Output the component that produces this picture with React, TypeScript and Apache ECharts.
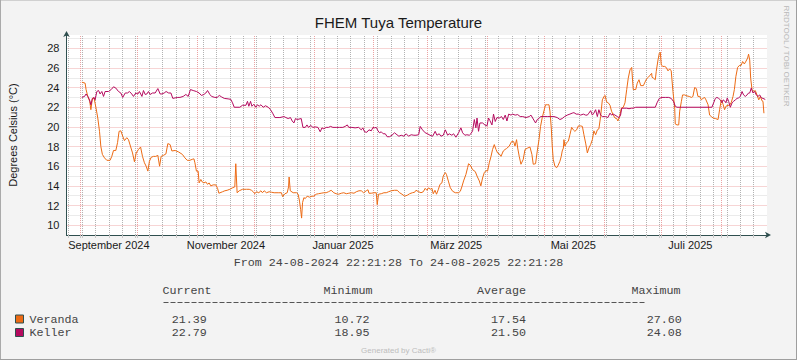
import React, { useEffect, useRef } from 'react';
import * as echarts from 'echarts';

// ---- time frame ----
const START = Date.UTC(2024, 7, 24, 22, 21, 28);
const END = Date.UTC(2025, 7, 24, 22, 21, 28);
const DAY = 86400000;

// ---- series: [days since START, °C] ----
const veranda: [number, number][] = [
  [8.0, 24.55], [9.7, 24.45], [10.2, 23.8], [11.1, 23.1], [12.1, 22.6], [12.7, 21.75], [13.5, 22.9], [14.4, 22.9], [15.4, 21.9], [16.3, 20.9],
  [17.2, 19.55], [17.9, 18.0], [18.7, 17.2], [19.8, 16.85], [21.0, 16.6], [22.7, 16.6], [23.6, 17.0], [24.5, 17.6], [25.7, 17.6], [26.6, 18.4],
  [27.4, 19.55], [28.3, 19.6], [29.3, 19.05], [30.2, 18.6], [31.4, 18.9], [32.3, 18.7], [33.3, 18.05], [34.4, 17.35], [35.4, 16.45], [36.3, 17.35],
  [37.5, 17.7], [38.6, 17.95], [39.6, 17.0], [40.6, 16.35], [41.5, 16.0], [42.4, 15.5], [43.2, 16.5], [44.1, 16.9], [45.3, 17.0], [46.5, 17.0],
  [47.6, 17.1], [48.5, 16.0], [49.3, 17.0], [50.5, 17.1], [51.8, 17.25], [52.8, 18.3], [54.0, 18.2], [54.9, 17.55], [56.6, 17.6], [58.4, 17.45],
  [60.4, 17.2], [61.7, 16.85], [62.9, 16.6], [64.3, 16.6], [65.5, 16.7], [66.4, 16.75], [66.9, 16.35], [67.7, 15.5], [68.6, 15.5], [69.1, 14.3],
  [70.0, 14.65], [70.7, 14.4], [71.6, 14.3], [72.6, 14.4], [73.5, 14.15], [74.3, 14.3], [75.2, 14.0], [76.4, 14.1], [77.8, 14.1], [78.7, 13.75],
  [79.4, 13.25], [81.3, 13.4], [82.5, 13.5], [83.7, 13.55], [85.1, 13.65], [86.5, 13.8], [87.7, 13.9], [88.2, 16.25], [88.9, 13.3], [90.0, 13.5],
  [91.7, 13.65], [93.8, 13.65], [95.2, 13.65], [96.4, 13.55], [97.3, 13.4], [98.1, 13.2], [99.0, 13.4], [100.2, 13.3], [101.3, 13.5], [102.1, 13.3],
  [103.0, 13.5], [104.2, 13.3], [105.6, 13.4], [106.8, 13.35], [108.2, 13.3], [110.3, 13.3], [112.0, 13.3], [112.6, 12.9], [113.8, 13.2], [115.0, 13.3],
  [115.7, 13.9], [116.0, 14.9], [116.6, 13.5], [118.1, 13.3], [119.9, 13.3], [120.7, 13.15],
  [121.4, 12.45], [122.0, 11.6], [122.5, 10.72], [123.0, 12.3], [123.7, 12.8], [124.4, 12.7], [125.4, 12.95], [126.6, 12.85], [127.9, 12.95], [128.9, 12.95],
  [130.1, 13.15], [131.3, 13.2], [132.7, 13.25], [134.1, 13.3], [135.3, 13.3], [136.5, 13.4], [137.9, 13.55], [139.3, 13.3], [140.5, 13.2], [141.8, 13.15],
  [143.2, 13.25], [144.5, 13.3], [145.8, 13.2], [147.1, 13.25], [148.4, 13.3], [149.8, 13.25], [151.0, 13.4], [152.4, 13.5], [153.6, 13.5], [154.8, 13.3],
  [156.2, 13.5], [157.1, 13.6], [157.6, 13.25], [158.8, 13.25], [160.2, 13.3], [161.4, 13.3], [161.9, 12.1], [162.6, 13.15], [164.0, 13.2], [165.4, 13.3],
  [166.6, 13.3], [167.8, 13.4], [169.2, 13.5], [170.9, 13.55], [172.3, 13.55], [173.6, 13.3], [174.8, 13.15], [176.2, 12.95], [177.6, 13.05], [178.8, 13.2],
  [180.2, 13.3], [181.4, 13.35],
  [182.1, 13.55], [183.5, 13.4], [184.7, 13.3], [185.9, 13.4], [186.9, 13.75], [187.8, 13.55], [188.7, 13.8], [189.5, 13.65], [190.4, 13.75], [191.1, 13.2],
  [192.0, 13.55], [192.8, 13.15], [193.7, 13.6], [194.6, 14.15], [195.6, 14.3], [196.3, 15.0], [197.4, 15.35], [198.0, 15.15], [199.1, 14.4], [200.0, 13.8],
  [201.2, 13.45], [202.6, 13.3], [204.3, 13.3], [205.2, 13.45], [206.0, 13.9], [206.9, 14.5], [208.1, 15.15], [209.0, 15.85], [209.5, 16.25], [210.4, 16.1],
  [211.6, 15.65], [213.0, 15.45], [213.9, 15.0], [215.1, 14.5], [215.9, 14.0], [216.8, 14.8], [217.7, 15.35], [218.6, 15.55], [219.4, 15.5], [220.3, 16.35],
  [221.2, 17.0], [222.0, 17.7], [222.9, 18.2], [223.8, 17.7], [224.6, 17.35], [225.5, 17.25], [226.4, 17.0], [227.6, 17.55], [228.5, 17.7], [229.3, 17.8],
  [230.7, 18.05], [231.9, 18.5], [233.0, 18.5], [233.7, 18.05], [234.5, 18.7], [235.1, 17.85], [235.9, 17.0], [236.8, 16.2], [238.0, 16.7], [238.9, 17.7],
  [240.3, 17.85], [241.5, 17.95], [242.5, 17.2], [243.2, 16.2],
  [244.4, 16.25], [245.3, 17.55], [246.2, 18.7], [247.0, 20.05], [247.9, 20.95], [248.8, 21.65], [249.6, 22.25], [250.5, 22.25], [251.4, 22.25], [251.9, 21.6],
  [252.6, 19.9], [253.1, 18.05], [253.6, 16.7], [254.5, 16.0], [255.4, 15.85], [256.2, 16.1], [257.1, 16.5], [257.8, 17.0], [258.3, 17.55], [258.9, 17.85],
  [259.2, 18.7], [259.7, 18.05], [260.6, 18.4], [261.5, 18.55], [262.3, 19.2], [263.2, 19.95], [264.1, 19.7], [264.9, 19.55], [265.8, 19.7], [266.7, 20.1],
  [267.9, 20.1], [268.8, 20.05], [269.6, 19.2], [270.5, 18.35], [271.4, 17.35], [272.2, 17.85], [273.1, 18.2], [274.0, 18.7], [274.8, 19.6], [275.7, 19.2],
  [276.6, 19.7], [277.4, 19.8], [278.3, 21.05], [279.2, 22.75], [280.1, 23.1], [280.6, 23.2], [281.4, 22.55], [282.3, 22.45], [283.2, 22.2], [284.0, 21.6],
  [284.9, 21.2], [285.8, 20.9], [286.7, 20.85], [287.3, 20.6], [288.2, 21.05], [289.1, 21.9], [290.1, 22.0], [291.0, 22.45], [291.9, 23.8], [292.7, 24.95],
  [293.6, 25.8], [294.5, 26.05], [295.3, 23.8], [296.6, 23.8], [297.4, 24.45], [298.3, 24.8], [299.2, 24.2], [300.6, 24.2], [301.4, 24.55], [302.3, 24.9],
  [303.2, 25.05], [304.0, 25.25], [304.9, 25.45],
  [305.1, 25.05], [305.9, 24.95], [306.8, 24.8], [307.3, 25.65], [308.2, 26.8], [308.9, 27.5], [309.4, 27.6], [309.9, 26.3], [310.8, 26.15], [311.7, 26.15],
  [312.5, 26.05], [313.4, 25.7], [314.3, 25.9], [315.1, 25.7], [316.0, 23.6], [316.9, 21.9], [317.2, 20.3], [318.1, 20.2], [319.0, 20.2], [319.5, 21.6],
  [320.4, 22.6], [321.0, 23.25], [322.1, 23.25], [323.3, 23.15], [324.5, 23.1], [325.6, 23.0], [326.4, 23.1], [327.3, 24.0], [328.2, 23.9], [329.0, 23.1],
  [329.9, 23.1], [330.8, 22.75], [331.6, 22.9], [332.5, 23.0], [333.2, 22.75], [334.3, 22.25], [335.1, 21.2], [336.0, 21.05], [336.9, 20.9], [338.1, 20.85],
  [339.5, 20.75], [340.3, 21.75], [341.2, 22.75], [342.1, 22.3], [342.9, 21.75], [343.6, 22.1], [344.7, 22.2], [345.5, 22.2], [346.4, 22.5], [347.3, 23.1],
  [348.0, 23.8], [348.8, 25.15], [349.7, 26.05], [350.6, 26.25], [351.5, 26.25], [352.3, 26.65], [353.2, 26.4], [354.1, 26.7], [354.9, 27.0], [355.4, 27.4],
  [356.0, 26.8], [356.5, 24.95], [357.2, 23.8], [358.1, 23.6], [358.9, 23.7], [359.8, 23.25], [360.7, 22.75], [361.5, 23.1], [362.4, 22.65], [362.9, 22.6],
  [363.4, 21.39],
];

const keller: [number, number][] = [
  [8.0, 23.0], [9.4, 23.1], [10.2, 23.35], [11.1, 23.1], [12.0, 22.75], [12.7, 22.25], [13.5, 22.9], [14.4, 23.0], [14.9, 22.75], [15.8, 23.6],
  [16.7, 23.7], [17.5, 23.35], [18.4, 23.6], [19.3, 23.1], [20.1, 23.6], [21.9, 23.6], [23.3, 23.8], [24.5, 24.08], [25.7, 23.95], [27.1, 23.6],
  [28.3, 23.45], [29.3, 23.0], [30.6, 23.45], [31.8, 23.45], [32.8, 23.6], [34.0, 23.35], [34.9, 23.1], [36.1, 23.45], [37.2, 23.35], [38.0, 23.6],
  [39.3, 23.1], [40.1, 23.7], [41.0, 23.3], [41.9, 23.35], [42.7, 23.6], [43.6, 23.3], [44.8, 23.45], [46.2, 23.45], [47.6, 23.9], [48.8, 23.35],
  [49.7, 23.35], [50.9, 23.45], [51.9, 23.6], [53.2, 23.45], [54.4, 23.45], [55.4, 22.9], [56.6, 22.95], [58.0, 23.0],
  [59.1, 23.0], [60.8, 23.1], [62.2, 23.3], [63.4, 23.1], [64.6, 23.8], [66.0, 23.7], [67.7, 23.6], [69.1, 23.45], [70.3, 23.2], [71.6, 23.3],
  [72.6, 23.45], [73.5, 23.7], [74.7, 23.3], [75.6, 23.1], [77.3, 23.0], [78.5, 23.0], [79.6, 23.2], [80.8, 23.05], [82.2, 22.9], [84.2, 22.85],
  [85.6, 22.8], [86.5, 22.45], [87.4, 22.0], [90.3, 22.0], [91.7, 22.2], [93.5, 22.2], [94.3, 22.6], [95.0, 22.1], [95.9, 22.6], [96.6, 22.1],
  [97.6, 22.3], [98.7, 22.0], [99.5, 22.25], [100.4, 22.1], [101.3, 22.25], [102.5, 22.0], [103.7, 22.15], [105.1, 22.0], [106.3, 21.75], [107.4, 21.4],
  [108.6, 20.95], [111.2, 20.95], [113.3, 21.05], [114.3, 20.95], [115.5, 20.85], [116.7, 20.95], [117.6, 20.6], [118.5, 20.4], [119.3, 20.85], [120.2, 20.75],
  [122.3, 20.85], [123.2, 19.95], [124.4, 19.95], [125.3, 20.2], [126.1, 19.95], [127.2, 20.15], [128.4, 19.95], [129.6, 20.0], [131.0, 19.95], [132.2, 19.5],
  [133.1, 19.9], [134.1, 19.8], [135.3, 19.95], [136.5, 19.95], [137.6, 20.05], [138.8, 19.95], [140.5, 19.95], [142.3, 19.95], [144.0, 19.95], [145.2, 20.05],
  [146.3, 20.2], [147.1, 19.95], [148.7, 19.95], [150.4, 19.9], [152.2, 19.95], [153.6, 19.7], [154.4, 19.9], [155.3, 19.5], [156.5, 19.45], [157.6, 19.7],
  [158.8, 19.6], [159.7, 19.95], [160.5, 19.9], [161.4, 19.95], [162.3, 19.6], [163.1, 19.4], [164.0, 19.5], [165.0, 19.3], [166.1, 19.3], [167.1, 19.0],
  [168.3, 19.0], [169.6, 19.15], [170.9, 19.4], [172.2, 19.2], [173.2, 19.05], [174.4, 19.15], [175.8, 19.05], [177.0, 19.3], [178.2, 19.05], [179.6, 19.2],
  [181.0, 19.15],
  [182.1, 19.15], [183.5, 19.2], [184.3, 20.05], [185.5, 19.7], [186.9, 19.4], [188.1, 19.3], [189.4, 19.15], [190.8, 19.05], [192.1, 19.55], [193.0, 19.15],
  [194.2, 19.3], [195.1, 19.05], [196.3, 19.15], [197.4, 19.7], [198.6, 19.15], [199.4, 19.3], [200.8, 19.15], [201.7, 19.3], [202.9, 18.95], [204.3, 19.4],
  [205.5, 19.9], [206.4, 19.4], [207.6, 19.15], [208.6, 19.2], [209.9, 19.15], [210.7, 19.3], [211.6, 19.6], [212.5, 20.75], [213.3, 19.9], [213.9, 20.9],
  [214.7, 19.55], [215.4, 20.4], [216.8, 20.4], [218.0, 20.2], [219.1, 20.1], [219.9, 20.9], [220.6, 20.65], [221.7, 20.2], [222.5, 21.3], [223.4, 20.55],
  [224.3, 20.95], [225.5, 20.9], [226.7, 21.05], [227.6, 20.75], [228.6, 21.2], [229.5, 20.6], [230.4, 21.3], [231.6, 21.2], [232.4, 21.3], [233.8, 21.2],
  [235.1, 21.25], [236.4, 21.05], [237.7, 21.05], [239.4, 20.95], [241.1, 21.05], [242.0, 21.2], [242.9, 20.9],
  [244.4, 20.4], [245.3, 20.75], [246.2, 20.85], [247.0, 21.05], [248.8, 21.05], [250.5, 21.05], [252.3, 21.05], [254.0, 21.05], [255.7, 20.95], [257.1, 20.75],
  [258.3, 20.85], [259.5, 21.05], [260.9, 21.2], [262.3, 21.3], [263.5, 21.4], [264.4, 21.45], [265.6, 21.3], [266.7, 21.3], [267.9, 21.2], [269.3, 21.3],
  [270.5, 21.2], [271.4, 21.2], [272.2, 21.4], [273.1, 21.65], [274.0, 21.2], [274.8, 21.4], [275.7, 21.75], [276.6, 21.05], [277.4, 21.75], [278.3, 21.2],
  [279.2, 21.05], [280.1, 21.05], [280.9, 21.05], [282.1, 20.95], [283.2, 21.4], [284.0, 21.2], [284.9, 21.3], [285.8, 21.2], [287.0, 21.05], [287.9, 20.95],
  [288.7, 21.2], [289.3, 21.9], [290.5, 21.9], [291.9, 21.9], [293.1, 21.85], [294.3, 21.9], [295.3, 21.9], [296.6, 22.0], [298.3, 22.0],
  [305.1, 22.0], [306.8, 22.0], [307.7, 22.45], [308.9, 22.9], [310.3, 23.0], [312.0, 23.0], [313.8, 23.0], [315.1, 22.9], [316.4, 22.55], [317.2, 22.1],
  [318.1, 22.0], [336.3, 22.0], [337.2, 22.45], [338.1, 22.9], [338.9, 23.0], [339.8, 22.9], [340.7, 22.75], [341.5, 22.45], [342.1, 22.75], [342.9, 22.65],
  [343.6, 22.45], [344.3, 22.95], [345.0, 22.6], [345.9, 22.0], [346.8, 22.45], [347.6, 22.6], [348.5, 22.75], [349.4, 22.9], [350.2, 22.95], [351.1, 23.1],
  [352.0, 23.6], [352.8, 23.25], [353.7, 23.1], [354.6, 23.25], [355.4, 23.45], [356.0, 23.45], [356.8, 23.95], [357.7, 23.45], [358.6, 23.6], [359.4, 23.25],
  [360.3, 23.1], [361.2, 23.25], [362.1, 22.95], [362.9, 22.9], [364.1, 22.79],
];

// ---- axis labels ----
const monthLabelDates: [number, number, number][] = [[2024, 9, 16], [2024, 11, 16], [2025, 1, 16], [2025, 3, 16], [2025, 5, 16], [2025, 7, 16]];
const monthLabelTexts = ['September 2024', 'November 2024', 'Januar 2025', 'März 2025', 'Mai 2025', 'Juli 2025'];
const yLabelValues = [10, 12, 14, 16, 18, 20, 22, 24, 26, 28];

// ---- legend / stats ----
const seriesNames = ['Veranda', 'Keller'];
const statHeaders = ['Current', 'Minimum', 'Average', 'Maximum'];
const verandaStats = [21.39, 10.72, 17.54, 27.60];
const kellerStats = [22.79, 18.95, 21.50, 24.08];
const rangeText = 'From 24-08-2024 22:21:28 To 24-08-2025 22:21:28';

const VERANDA = '#EC6A14';
const KELLER = '#B40A5E';
const AXIS = '#2f4f4f';
const GRID_MINOR = '#d6d6d6';
const GRID_MAJOR = '#eeaaaa';
const MONO = '"Liberation Mono", monospace';
const SANS = '"Liberation Sans", Arial, sans-serif';

export default function App() {
  const ref = useRef<HTMLDivElement>(null);
  useEffect(() => {
    document.body.style.margin = '0';
    const chart = echarts.init(ref.current!, null, { renderer: 'svg' });

    const labelTimes = monthLabelDates.map(([y, m, d]) => Date.UTC(y, m - 1, d));
    const labelMap: Record<number, string> = {};
    labelTimes.forEach((t, i) => (labelMap[t] = monthLabelTexts[i]));

    const monthStarts: number[] = [];
    for (let i = 0; i < 12; i++) monthStarts.push(Date.UTC(2024, 8 + i, 1));
    const weeks: number[] = [];
    for (let t = Date.UTC(2024, 7, 26); t <= END; t += 7 * DAY) weeks.push(t);

    const verticalGrid: any[] = [
      ...weeks.map((t) => ({ xAxis: t, lineStyle: { color: '#b2b2b2', type: [1, 1], width: 1 } })),
      ...monthStarts.map((t) => ({ xAxis: t, lineStyle: { color: '#eba2a2', type: [1, 1], width: 1 } })),
    ];

    const toData = (arr: [number, number][]) => arr.map(([d, v]) => [START + d * DAY, v]);

    const colX = [162.5, 323.5, 477, 631.5];
    const valX = [171.8, 334.5, 491, 646.8];
    const rowY = [319.5, 333];
    const stats = [verandaStats, kellerStats];
    const colors = [VERANDA, KELLER];
    const textStyle = (text: string, align = 'left') => ({ text, font: `11.7px ${MONO}`, fill: '#444', align, verticalAlign: 'middle' });

    const graphic: any[] = [
      { type: 'line', silent: true, shape: { x1: 0, y1: 0.5, x2: 797, y2: 0.5 }, style: { stroke: '#d0d0d0', lineWidth: 1 } },
      { type: 'line', silent: true, shape: { x1: 0.5, y1: 0, x2: 0.5, y2: 360 }, style: { stroke: '#aaaaaa', lineWidth: 1 } },
      { type: 'line', silent: true, shape: { x1: 0, y1: 359.5, x2: 797, y2: 359.5 }, style: { stroke: '#9e9e9e', lineWidth: 1 } },
      { type: 'line', silent: true, shape: { x1: 796.5, y1: 0, x2: 796.5, y2: 360 }, style: { stroke: '#9e9e9e', lineWidth: 1 } },
      {
        type: 'text', silent: true, x: 786.5, y: 56, rotation: -Math.PI / 2,
        style: { text: 'RRDTOOL / TOBI OETIKER', font: `8px ${SANS}`, fill: '#b8b8b8', align: 'center', verticalAlign: 'middle' },
      },
      { type: 'text', silent: true, x: 398.5, y: 263, style: textStyle(rangeText, 'center') },
      ...statHeaders.map((h, i) => ({ type: 'text', silent: true, x: colX[i], y: 291, style: textStyle(h) })),
      // separator rule (a row of hyphens in the original legend)
      {
        type: 'line', silent: true, shape: { x1: 163.5, y1: 302.5, x2: 646, y2: 302.5 },
        style: { stroke: '#555', lineWidth: 1, lineDash: [5, 2] },
      },
      ...seriesNames.flatMap((name, r) => [
        {
          type: 'rect', silent: true, shape: { x: 15.5, y: rowY[r] - 4.5, width: 8, height: 8 },
          style: { fill: colors[r], stroke: AXIS, lineWidth: 1 },
        },
        { type: 'text', silent: true, x: 29.5, y: rowY[r], style: textStyle(name) },
        ...stats[r].map((v, i) => ({ type: 'text', silent: true, x: valX[i], y: rowY[r], style: textStyle(v.toFixed(2)) })),
      ]),
      {
        type: 'text', silent: true, x: 398.5, y: 350,
        style: { text: 'Generated by Cacti®', font: `8px ${SANS}`, fill: '#bdbdbd', align: 'center', verticalAlign: 'middle' },
      },
    ];

    const arrowLine = { show: true, onZero: false, lineStyle: { color: AXIS, width: 1 }, symbol: ['none', 'arrow'], symbolSize: [5, 6], symbolOffset: [0, 4] };

    chart.setOption({
      animation: false,
      backgroundColor: '#F3F3F3',
      textStyle: { fontFamily: SANS },
      title: {
        text: 'FHEM Tuya Temperature', left: 'center', top: 14, padding: 0,
        textStyle: { fontSize: 15, fontWeight: 'normal', color: '#1a1a1a', fontFamily: SANS, lineHeight: 17 },
      },
      grid: {
        left: 66.5, right: 30, top: 35, bottom: 125, show: true, backgroundColor: '#FFFFFF', borderWidth: 0,
        containLabel: false, outerBoundsMode: 'none',
      },
      xAxis: {
        type: 'value', min: START, max: END, scale: true,
        axisLine: arrowLine,
        axisTick: { show: true, customValues: [...weeks, ...monthStarts], length: 3, lineStyle: { color: '#c8c8c8' } },
        axisLabel: {
          show: true, customValues: labelTimes, formatter: (v: number) => labelMap[v] ?? '',
          color: '#1a1a1a', fontSize: 11, margin: 4, fontFamily: SANS, hideOverlap: false,
        },
        splitLine: { show: false },
      },
      yAxis: {
        type: 'value', min: 9, max: 29.35, interval: 1,
        name: 'Degrees Celsius (°C)', nameLocation: 'middle', nameGap: 48, nameRotate: 90,
        nameTextStyle: { fontSize: 11, color: '#1a1a1a', fontFamily: SANS },
        axisLine: arrowLine,
        axisTick: { show: true, length: 3, lineStyle: { color: [GRID_MINOR, GRID_MAJOR] } },
        axisLabel: {
          formatter: (v: number) => (yLabelValues.includes(v) ? String(v) : ''),
          fontSize: 11, color: '#1a1a1a', margin: 7, fontFamily: SANS,
        },
        splitLine: { show: true, showMaxLine: false, lineStyle: { color: [GRID_MINOR, GRID_MAJOR], type: [1, 1], width: 1 } },
      },
      series: [
        {
          type: 'line', name: 'grid', data: [], silent: true, z: 1,
          markLine: {
            silent: true, z: 1, symbol: ['none', 'none'], label: { show: false }, animation: false,
            emphasis: { disabled: true }, data: verticalGrid,
          },
        },
        {
          type: 'line', name: seriesNames[0], data: toData(veranda), symbol: 'none', silent: true, z: 3,
          lineStyle: { color: VERANDA, width: 1 }, itemStyle: { color: VERANDA },
        },
        {
          type: 'line', name: seriesNames[1], data: toData(keller), symbol: 'none', silent: true, z: 4,
          lineStyle: { color: KELLER, width: 1 }, itemStyle: { color: KELLER },
        },
      ],
      graphic,
    });
    return () => chart.dispose();
  }, []);
  return <div ref={ref} style={{ position: 'absolute', left: 0, top: 0, width: 797, height: 360 }} />;
}
